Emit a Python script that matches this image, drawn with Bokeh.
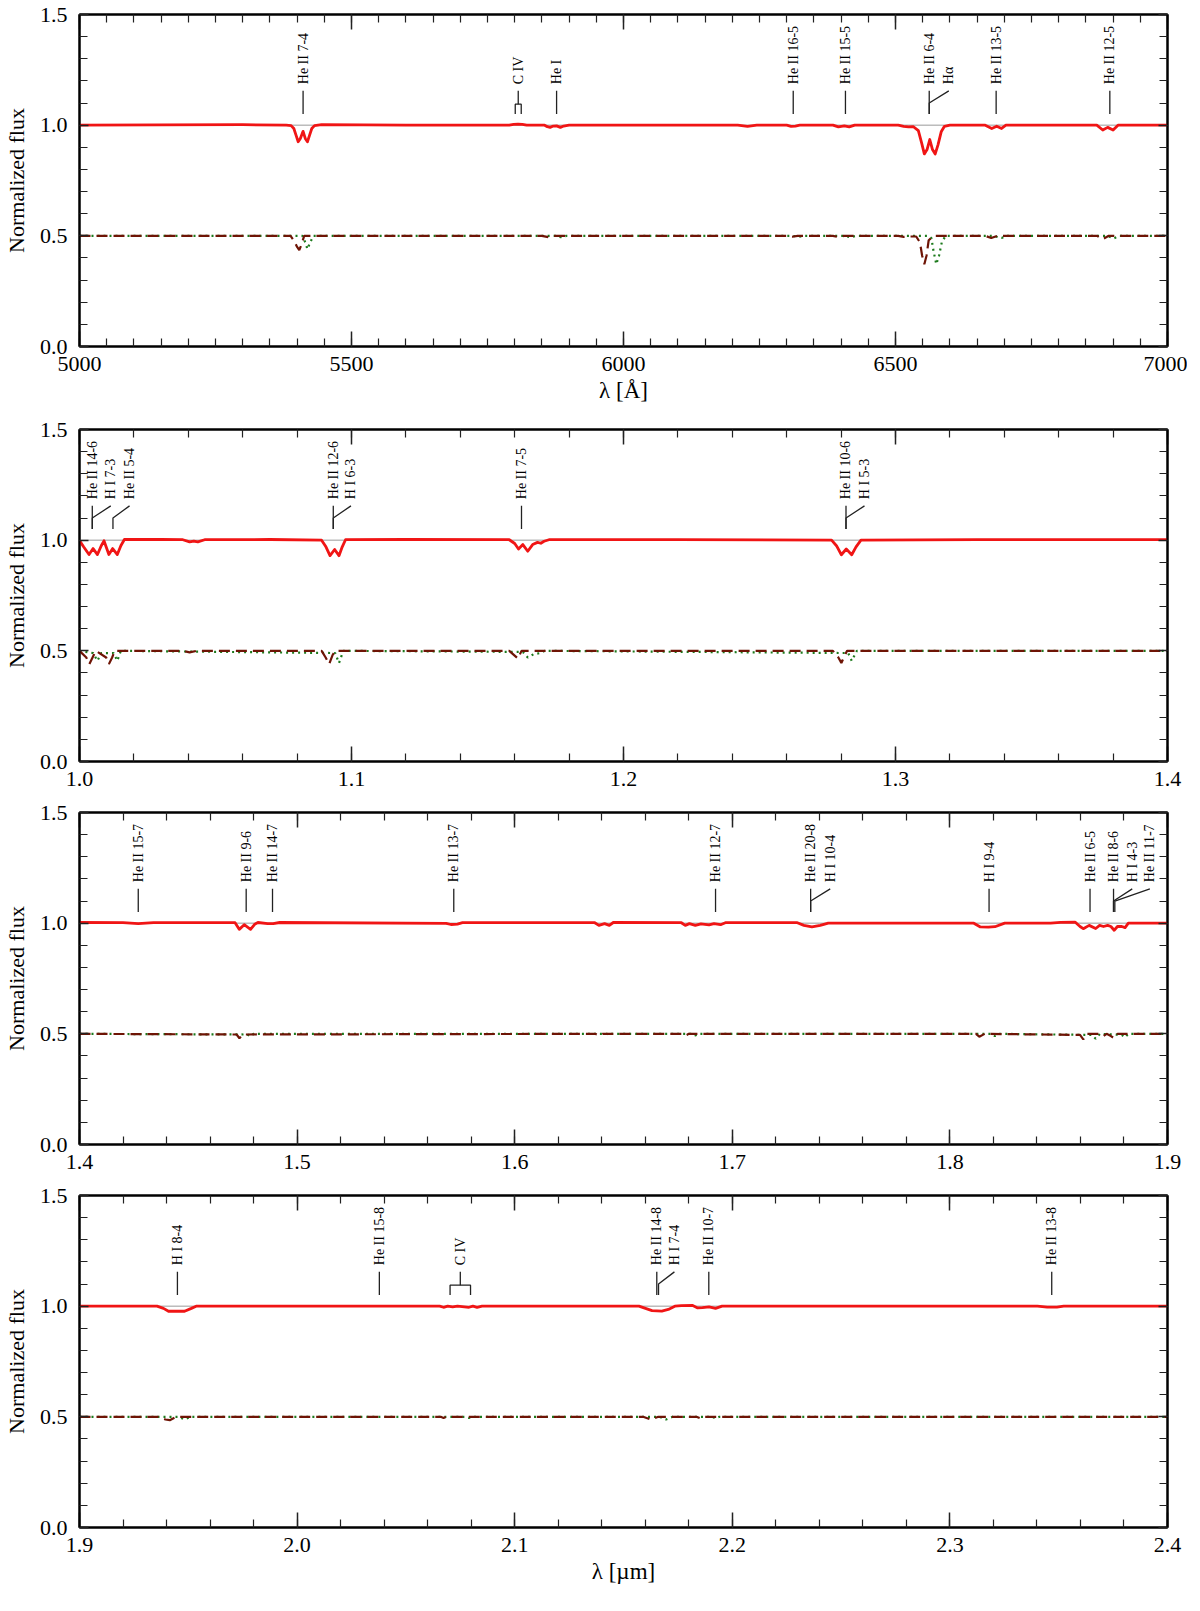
import math
from bokeh.plotting import figure
from bokeh.models import Range1d, LinearAxis, SingleIntervalTicker, PrintfTickFormatter, Span
from bokeh.layouts import column
from bokeh.embed import file_html
from bokeh.resources import INLINE
from bokeh.core.properties import value

FONT = "'Liberation Serif', 'Times New Roman', serif"
RED = "#f01515"
BROWN = "#6e1405"
GREEN = "#1c7a1c"
GRAY = "#9a9a9a"

# ---------------- Panel 1 (optical, Angstrom) ----------------
p1_xlim = [5000, 7000]
p1_red_wave = [5000, 5150, 5300, 5380,
               5389, 5394, 5398, 5402, 5406, 5411, 5415, 5419, 5423, 5427, 5432, 5445,
               5600, 5790, 5798, 5806, 5814, 5822,
               5855, 5860, 5865, 5871, 5877, 5884, 5890, 5900,
               6100, 6210, 6228, 6245,
               6300, 6308, 6316, 6324,
               6385, 6395, 6406, 6415, 6425,
               6505, 6515, 6524, 6533, 6542, 6548, 6553, 6558, 6563, 6568, 6573, 6578, 6584, 6590, 6600,
               6665, 6677, 6686, 6695, 6703,
               6870, 6881, 6890, 6900, 6909,
               6960, 7000]
p1_red_flux = [1.0, 1.001, 1.002, 1.0,
               0.998, 0.985, 0.955, 0.925, 0.94, 0.972, 0.94, 0.925, 0.955, 0.985, 0.998, 1.002,
               1.0, 1.0, 1.004, 1.005, 1.004, 1.0,
               1.0, 0.993, 0.99, 0.996, 0.997, 0.99, 0.996, 1.0,
               1.0, 1.0, 0.995, 1.0,
               1.0, 0.995, 0.996, 1.0,
               1.0, 0.992, 0.997, 0.992, 1.0,
               1.0, 0.995, 0.992, 0.993, 0.975, 0.92, 0.87, 0.89, 0.935, 0.89, 0.87, 0.91, 0.97, 0.995, 1.0,
               1.0, 0.985, 0.995, 0.985, 1.0,
               1.0, 0.978, 0.99, 0.978, 1.0,
               1.0, 1.0]
p1_a_wave = [5000, 5388, 5395, 5400, 5404, 5408, 5413,
             5600, 5850, 5862, 5872, 5880,
             6300, 6310, 6320, 6385, 6395, 6405,
             6505, 6515, 6525, 6538, 6545, 6549, 6553, 6557, 6561, 6570,
             6665, 6676, 6687, 6870, 6881, 6892, 7000]
p1_a_flux = [0.5, 0.5, 0.475, 0.45, 0.436, 0.46, 0.5,
             0.5, 0.5, 0.494, 0.5, 0.5,
             0.5, 0.496, 0.5, 0.5, 0.494, 0.5,
             0.5, 0.495, 0.497, 0.497, 0.47, 0.41, 0.372, 0.41, 0.48, 0.5,
             0.5, 0.49, 0.5, 0.5, 0.485, 0.5, 0.5]
p1_b_wave = [5000, 5410, 5415, 5419, 5424, 5430,
             5600, 5875, 5885, 5895,
             6310, 6322, 6334, 6405, 6417, 6428,
             6560, 6566, 6570, 6575, 6580, 6585, 6592,
             6680, 6695, 6705, 6890, 6901, 6912, 7000]
p1_b_flux = [0.5, 0.5, 0.47, 0.44, 0.47, 0.5,
             0.5, 0.5, 0.494, 0.5,
             0.5, 0.496, 0.5, 0.5, 0.494, 0.5,
             0.5, 0.49, 0.43, 0.372, 0.41, 0.47, 0.5,
             0.5, 0.49, 0.5, 0.5, 0.488, 0.5, 0.5]
p1_id_text = ["He II 7-4", "He I", "He II 16-5", "He II 15-5", "He II 6-4", "Hα", "He II 13-5", "He II 12-5"]
p1_id_wave = [5411, 5877, 6312, 6408, 6562, 6562, 6685, 6894]
p1_id_label = [5411, 5877, 6312, 6408, 6562, 6598, 6685, 6894]
p1_civ_wave = [5801, 5812]

# ---------------- Panel 2 (1.0 - 1.4 micron) ----------------
p2_xlim = [1.0, 1.4]
p2_red_wave = [1.0, 1.0015, 1.0035, 1.005, 1.0066, 1.008, 1.009, 1.0108, 1.0122, 1.0139, 1.0152, 1.0165,
               1.03, 1.038, 1.0405, 1.042, 1.0435, 1.046, 1.07,
               1.089, 1.0906, 1.0921, 1.0938, 1.0954, 1.0966, 1.0978, 1.12,
               1.158, 1.16, 1.1614, 1.163, 1.1648, 1.1666, 1.1684, 1.1696, 1.1708, 1.1726, 1.22,
               1.2765, 1.2783, 1.2801, 1.2819, 1.2839, 1.2855, 1.2873, 1.33, 1.4]
p2_red_flux = [0.998, 0.97, 0.935, 0.962, 0.935, 0.975, 0.997, 0.935, 0.962, 0.935, 0.975, 1.003,
               1.003, 1.002, 0.992, 0.996, 0.992, 1.002, 1.003,
               1.0, 0.97, 0.93, 0.958, 0.93, 0.97, 1.002, 1.003,
               1.002, 0.985, 0.96, 0.98, 0.95, 0.98, 0.99, 0.986, 0.995, 1.002, 1.002,
               1.0, 0.975, 0.934, 0.96, 0.934, 0.97, 1.0, 1.002, 1.002]
p2_a_wave = [1.0, 1.0025, 1.0036, 1.0048, 1.006, 1.0098, 1.0108, 1.012, 1.013,
             1.038, 1.0405, 1.043,
             1.089, 1.0905, 1.0918, 1.093, 1.094,
             1.158, 1.1603, 1.1612, 1.1625,
             1.277, 1.279, 1.2801, 1.281, 1.2822, 1.4]
p2_a_flux = [0.5, 0.47, 0.44, 0.47, 0.5, 0.47, 0.44, 0.47, 0.5,
             0.5, 0.493, 0.5,
             0.5, 0.47, 0.44, 0.48, 0.5,
             0.5, 0.475, 0.465, 0.5,
             0.5, 0.47, 0.445, 0.47, 0.5, 0.5]
p2_b_wave = [1.0, 1.005, 1.0066, 1.008, 1.0125, 1.0139, 1.0152,
             1.094, 1.0954, 1.097,
             1.163, 1.1648, 1.167, 1.1695, 1.171,
             1.2826, 1.2839, 1.2858, 1.4]
p2_b_flux = [0.5, 0.49, 0.455, 0.49, 0.49, 0.455, 0.5,
             0.49, 0.445, 0.5,
             0.495, 0.47, 0.485, 0.49, 0.5,
             0.49, 0.455, 0.5, 0.5]
p2_id_text = ["He II 14-6", "H I 7-3", "He II 5-4", "He II 12-6", "H I 6-3", "He II 7-5", "He II 10-6", "H I 5-3"]
p2_id_wave = [1.0047, 1.0047, 1.0123, 1.0933, 1.0933, 1.1625, 1.2818, 1.2818]
p2_id_label = [1.0047, 1.0115, 1.0184, 1.0933, 1.0998, 1.1625, 1.2818, 1.2886]
p2_civ_wave = []

# ---------------- Panel 3 (1.4 - 1.9 micron) ----------------
p3_xlim = [1.4, 1.9]
p3_red_wave = [1.4, 1.42, 1.427, 1.434,
               1.4715, 1.4734, 1.4757, 1.4786, 1.4805, 1.482, 1.4865, 1.489, 1.492,
               1.5685, 1.5707, 1.5737, 1.576,
               1.6368, 1.6387, 1.6413, 1.6435, 1.6453,
               1.6766, 1.6784, 1.6803, 1.683, 1.6856, 1.6893, 1.6916, 1.6946, 1.6968,
               1.7299, 1.7329, 1.7366, 1.7404, 1.7441,
               1.811, 1.814, 1.8177, 1.8207, 1.8252,
               1.8463, 1.8508, 1.8575, 1.8598, 1.8613, 1.864, 1.867, 1.8688, 1.8706, 1.8725, 1.874, 1.8755,
               1.877, 1.879, 1.8805, 1.882, 1.9]
p3_red_flux = [1.003, 1.002, 0.998, 1.002,
               1.002, 0.972, 0.993, 0.972, 0.995, 1.003, 0.998, 0.998, 1.003,
               0.999, 0.994, 0.996, 1.002,
               1.002, 0.99, 0.998, 0.99, 1.003,
               1.002, 0.99, 0.998, 0.99, 0.997, 0.992, 0.998, 0.993, 1.002,
               1.002, 0.99, 0.983, 0.99, 1.0,
               1.0, 0.983, 0.982, 0.984, 1.0,
               1.0, 1.004, 1.005, 0.985, 0.975, 0.99, 0.976, 0.99, 0.985, 0.99, 0.985, 0.968,
               0.985, 0.985, 0.98, 1.0, 1.0]
p3_a_wave = [1.4, 1.4722, 1.4735, 1.475,
             1.637, 1.6387, 1.6405,
             1.677, 1.6784, 1.68,
             1.812, 1.8135, 1.816,
             1.8598, 1.8613, 1.863,
             1.869, 1.8706, 1.872,
             1.874, 1.8755, 1.877, 1.9]
p3_a_flux = [0.5, 0.497, 0.48, 0.497,
             0.5, 0.493, 0.5,
             0.5, 0.492, 0.5,
             0.5, 0.487, 0.5,
             0.495, 0.475, 0.5,
             0.5, 0.49, 0.5,
             0.49, 0.48, 0.5, 0.5]
p3_b_wave = [1.4, 1.4772, 1.4786, 1.48,
             1.6425, 1.6435, 1.6445,
             1.6818, 1.683, 1.6845,
             1.819, 1.8207, 1.823,
             1.865, 1.867, 1.869,
             1.879, 1.8805, 1.882, 1.9]
p3_b_flux = [0.5, 0.497, 0.488, 0.5,
             0.5, 0.494, 0.5,
             0.5, 0.493, 0.5,
             0.5, 0.49, 0.5,
             0.495, 0.478, 0.5,
             0.495, 0.484, 0.5, 0.5]
p3_id_text = ["He II 15-7", "He II 9-6", "He II 14-7", "He II 13-7", "He II 12-7", "He II 20-8", "H I 10-4",
              "H I 9-4", "He II 6-5", "He II 8-6", "H I 4-3", "He II 11-7"]
p3_id_wave = [1.427, 1.4766, 1.4887, 1.572, 1.6923, 1.736, 1.736, 1.818, 1.8644, 1.8752, 1.8752, 1.8758]
p3_id_label = [1.427, 1.4766, 1.4887, 1.572, 1.6923, 1.736, 1.745, 1.818, 1.8644, 1.8752, 1.8838, 1.8919]
p3_civ_wave = []

# ---------------- Panel 4 (1.9 - 2.4 micron) ----------------
p4_xlim = [1.9, 2.4]
p4_red_wave = [1.9, 1.93,
               1.9356, 1.9386, 1.9409, 1.9483, 1.9514, 1.9536,
               2.0655, 2.0673, 2.0692, 2.0715, 2.0737, 2.079, 2.0808, 2.0827, 2.085,
               2.1571, 2.1601, 2.1631, 2.1676, 2.1706, 2.1736, 2.1766, 2.1818, 2.1841, 2.1863, 2.1893, 2.1923, 2.1953,
               2.3402, 2.3447, 2.3492, 2.3523, 2.4]
p4_red_flux = [1.0, 1.0,
               1.0, 0.99, 0.977, 0.977, 0.99, 1.0,
               1.0, 0.995, 1.0, 0.997, 1.0, 0.995, 1.0, 0.995, 1.0,
               1.0, 0.99, 0.98, 0.978, 0.985, 1.0, 1.002, 1.003, 0.992, 0.993, 0.997, 0.99, 1.0,
               1.0, 0.996, 0.996, 1.0, 1.0]
p4_a_wave = [1.9, 1.936, 1.9395, 1.9415, 1.9445,
             2.066, 2.0673, 2.0686,
             2.159, 2.1625, 2.166,
             2.1835, 2.1856, 2.1875, 2.4]
p4_a_flux = [0.5, 0.5, 0.488, 0.485, 0.5,
             0.5, 0.495, 0.5,
             0.5, 0.488, 0.5,
             0.5, 0.492, 0.5, 0.5]
p4_b_wave = [1.9, 1.9455, 1.9483, 1.951,
             2.0775, 2.079, 2.0805,
             2.1665, 2.1695, 2.1725,
             2.191, 2.1923, 2.194, 2.4]
p4_b_flux = [0.5, 0.5, 0.488, 0.5,
             0.5, 0.495, 0.5,
             0.5, 0.488, 0.5,
             0.5, 0.493, 0.5, 0.5]
p4_id_text = ["H I 8-4", "He II 15-8", "He II 14-8", "H I 7-4", "He II 10-7", "He II 13-8"]
p4_id_wave = [1.945, 2.0378, 2.1653, 2.1661, 2.1892, 2.3468]
p4_id_label = [1.945, 2.0378, 2.1653, 2.1734, 2.1892, 2.3468]
p4_civ_wave = [2.0703, 2.0797]

y_lim = [0.0, 1.5]

FRAME_W = 1088
FRAME_H = 332
Y_MARK0, Y_KNEE, Y_MARK1, Y_TEXT = 1.05, 1.10, 1.155, 1.185
Y_BRACKET = 1.095


def style_axis(ax, major_in, minor_in, show_labels=True):
    ax.axis_line_color = "black"
    ax.axis_line_width = 2
    ax.major_tick_in = major_in
    ax.major_tick_out = 0
    ax.minor_tick_in = minor_in
    ax.minor_tick_out = 0
    ax.major_tick_line_color = "#222222"
    ax.minor_tick_line_color = "#222222"
    ax.major_tick_line_width = 1.5
    ax.minor_tick_line_width = 1.2
    ax.major_label_text_font = FONT
    if show_labels:
        ax.major_label_text_color = "black"
        ax.major_label_text_font_size = "22px"
    else:
        ax.major_label_text_color = None
        ax.major_label_text_font_size = "0px"
        ax.major_label_standoff = 0


def build(xlim, major, nminor, fmt, red_w, red_f, a_w, a_f, b_w, b_f,
          id_text, id_wave, id_label, civ_wave, xlabel, btop, bbottom):
    # tiny tolerance so the end tick (e.g. 1.4 = 14*0.1 in floating point) is kept
    tol = 1e-6 * (xlim[1] - xlim[0])
    p = figure(frame_width=FRAME_W, frame_height=FRAME_H,
               x_range=Range1d(xlim[0] - tol, xlim[1] + tol), y_range=Range1d(y_lim[0], y_lim[1]),
               output_backend="svg", toolbar_location=None,
               min_border_left=76, min_border_right=20,
               min_border_top=btop, min_border_bottom=bbottom)
    p.grid.visible = False
    p.outline_line_color = "black"
    p.outline_line_width = 2
    p.background_fill_color = "white"
    p.border_fill_color = "white"

    xt = SingleIntervalTicker(interval=major, num_minor_ticks=nminor)
    yt = SingleIntervalTicker(interval=0.5, num_minor_ticks=5)
    bottom = p.below[0]
    left = p.left[0]
    bottom.ticker = xt
    left.ticker = yt
    bottom.formatter = PrintfTickFormatter(format=fmt)
    left.formatter = PrintfTickFormatter(format="%.1f")
    style_axis(bottom, 15, 8)
    style_axis(left, 9, 8)
    bottom.major_label_standoff = 10
    left.major_label_standoff = 12
    left.axis_label = "Normalized flux"
    left.axis_label_text_font = FONT
    left.axis_label_text_font_size = "22px"
    left.axis_label_text_font_style = "normal"
    left.axis_label_text_color = "black"
    left.axis_label_standoff = 8
    if xlabel:
        bottom.axis_label = xlabel
        bottom.axis_label_text_font = FONT
        bottom.axis_label_text_font_size = "23px"
        bottom.axis_label_text_font_style = "normal"
        bottom.axis_label_text_color = "black"
        bottom.axis_label_standoff = 4

    top = LinearAxis(ticker=xt)
    right = LinearAxis(ticker=yt)
    style_axis(top, 15, 8, show_labels=False)
    style_axis(right, 9, 8, show_labels=False)
    p.add_layout(top, "above")
    p.add_layout(right, "right")

    p.add_layout(Span(location=1.0, dimension="width", line_color=GRAY,
                      line_width=1, level="underlay"))

    p.line(b_w, b_f, line_color=GREEN, line_width=2.2, line_dash="2 4")
    p.line(a_w, a_f, line_color=BROWN, line_width=2.2, line_dash="11 6")
    p.line(red_w, red_f, line_color=RED, line_width=2.8, line_join="round")

    xs = [[w, w, l] for w, l in zip(id_wave, id_label)]
    ys = [[Y_MARK0, Y_KNEE, Y_MARK1] for _ in id_wave]
    p.multi_line(xs, ys, line_color="#222222", line_width=1.3)
    texts = list(id_text)
    tx = list(id_label)
    if civ_wave:
        c0, c1 = civ_wave
        cm = 0.5 * (c0 + c1)
        p.multi_line([[c0, c0, c1, c1], [cm, cm]],
                     [[Y_MARK0, Y_BRACKET, Y_BRACKET, Y_MARK0], [Y_BRACKET, Y_MARK1]],
                     line_color="#222222", line_width=1.3)
        texts.append("C IV")
        tx.append(cm)
    p.text(x=tx, y=[Y_TEXT] * len(tx), text=texts, angle=math.pi / 2,
           text_align="left", text_baseline="middle",
           text_font=value(FONT), text_font_size="14px", text_color="black")
    return p


f1 = build(p1_xlim, 500, 10, "%d", p1_red_wave, p1_red_flux, p1_a_wave, p1_a_flux,
           p1_b_wave, p1_b_flux, p1_id_text, p1_id_wave, p1_id_label, p1_civ_wave,
           "λ [Å]", 14, 68)
f2 = build(p2_xlim, 0.1, 5, "%.1f", p2_red_wave, p2_red_flux, p2_a_wave, p2_a_flux,
           p2_b_wave, p2_b_flux, p2_id_text, p2_id_wave, p2_id_label, p2_civ_wave,
           None, 15, 38)
f3 = build(p3_xlim, 0.1, 5, "%.1f", p3_red_wave, p3_red_flux, p3_a_wave, p3_a_flux,
           p3_b_wave, p3_b_flux, p3_id_text, p3_id_wave, p3_id_label, p3_civ_wave,
           None, 13, 38)
f4 = build(p4_xlim, 0.1, 5, "%.1f", p4_red_wave, p4_red_flux, p4_a_wave, p4_a_flux,
           p4_b_wave, p4_b_flux, p4_id_text, p4_id_wave, p4_id_label, p4_civ_wave,
           "λ [µm]", 13, 66)

layout = column(f1, f2, f3, f4)
open("out.html", "w").write(file_html(layout, INLINE))
